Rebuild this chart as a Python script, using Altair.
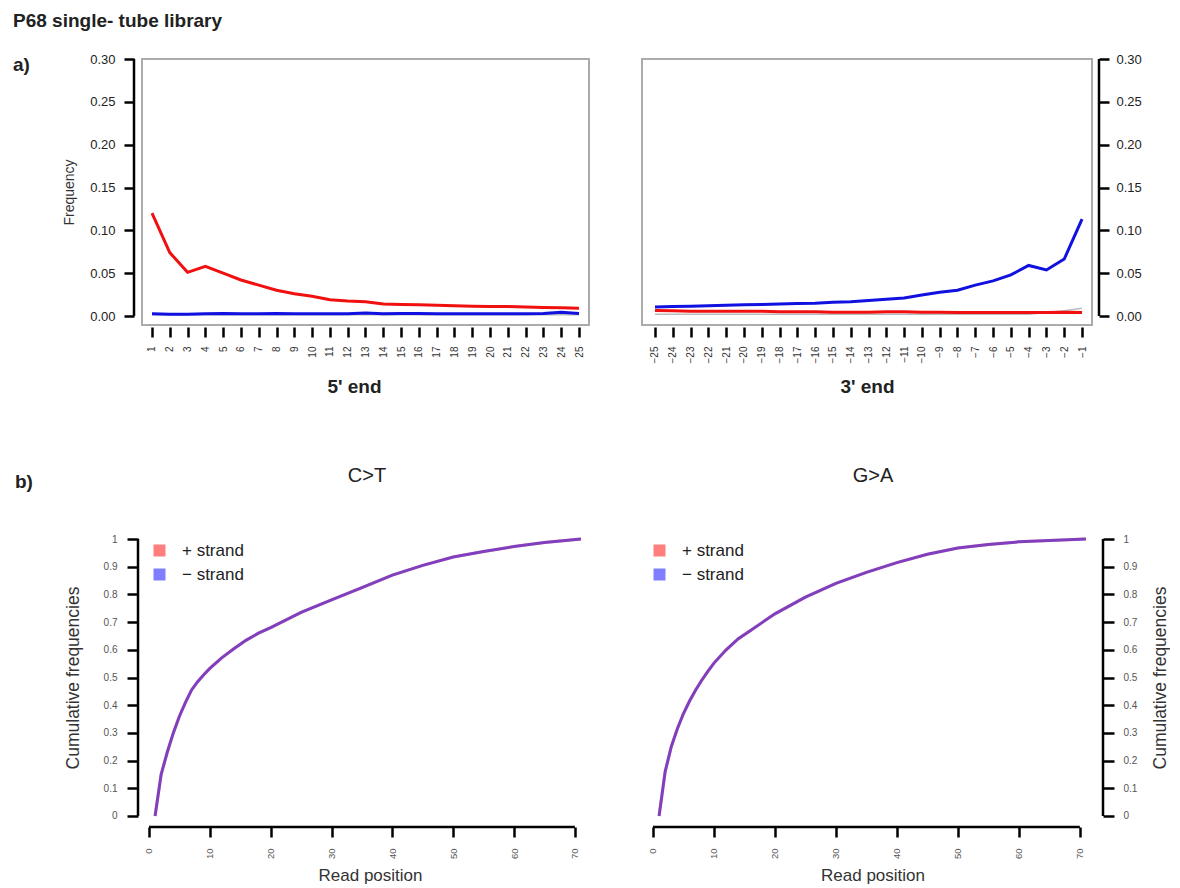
import altair as alt
import pandas as pd

FONT = "Liberation Sans"

# ---------------- data ----------------
pos5 = list(range(1, 26))
ct_5p = [0.120, 0.074, 0.051, 0.058, 0.050, 0.042, 0.036, 0.030, 0.026, 0.023,
         0.019, 0.0175, 0.0165, 0.014, 0.0135, 0.013, 0.0125, 0.012, 0.0115, 0.011,
         0.011, 0.0105, 0.010, 0.0095, 0.009]
ga_5p = [0.0025, 0.002, 0.002, 0.0025, 0.003, 0.0025, 0.0025, 0.003, 0.0025, 0.0025,
         0.0025, 0.0025, 0.0035, 0.0025, 0.003, 0.003, 0.0025, 0.0025, 0.0025, 0.0025,
         0.0025, 0.0025, 0.003, 0.0045, 0.003]
other_5p = [0.0015, 0.0015, 0.0015, 0.0015, 0.0015, 0.0015, 0.0015, 0.0015, 0.0015, 0.0015,
            0.0015, 0.0015, 0.0015, 0.0015, 0.0015, 0.0015, 0.0015, 0.0015, 0.0015, 0.0015,
            0.0015, 0.0015, 0.0015, 0.0015, 0.0015]

pos3 = list(range(-25, 0))
ct_3p = [0.0065, 0.006, 0.0055, 0.0055, 0.0055, 0.0055, 0.0055, 0.005, 0.005, 0.005,
         0.0045, 0.0045, 0.0045, 0.005, 0.005, 0.0045, 0.0045, 0.004, 0.004, 0.004,
         0.004, 0.004, 0.004, 0.0045, 0.004]
ga_3p = [0.0105, 0.011, 0.0115, 0.012, 0.0125, 0.013, 0.0135, 0.014, 0.0145, 0.015,
         0.016, 0.0165, 0.018, 0.0195, 0.021, 0.0245, 0.0277, 0.030, 0.036, 0.041,
         0.048, 0.059, 0.0537, 0.0665, 0.113]
other_3p = [0.002, 0.002, 0.002, 0.002, 0.002, 0.002, 0.002, 0.002, 0.002, 0.002,
            0.002, 0.002, 0.002, 0.002, 0.002, 0.002, 0.002, 0.002, 0.002, 0.002,
            0.002, 0.002, 0.004, 0.006, 0.009]

read_pos = [1, 2, 3, 4, 5, 6, 7, 8, 9, 10, 12, 14, 16, 18, 20, 25, 30, 35, 40, 45,
            50, 55, 60, 65, 71]
ct_cum = [0.0, 0.15, 0.23, 0.30, 0.36, 0.41, 0.455, 0.485, 0.51, 0.533, 0.572, 0.605,
          0.635, 0.66, 0.68, 0.735, 0.78, 0.825, 0.87, 0.905, 0.935, 0.955, 0.973, 0.988, 1.0]
ga_cum = [0.0, 0.16, 0.25, 0.315, 0.37, 0.415, 0.455, 0.49, 0.522, 0.552, 0.60, 0.64,
          0.67, 0.70, 0.73, 0.79, 0.84, 0.88, 0.915, 0.945, 0.968, 0.98, 0.99, 0.995, 1.0]

freq_ticks = [0.0, 0.05, 0.10, 0.15, 0.20, 0.25, 0.30]
cum_ticks = [0.0, 0.1, 0.2, 0.3, 0.4, 0.5, 0.6, 0.7, 0.8, 0.9, 1.0]
read_ticks = [0, 10, 20, 30, 40, 50, 60, 70]
strands = ["+ strand", "\u2212 strand"]

TXT = "#222222"
FRAME = alt.ViewBackground(stroke="#ABABAB", strokeWidth=2)
NOFRAME = alt.ViewBackground(stroke="transparent")


def one(text):
    return pd.DataFrame({"t": [text]})


def label(text, x, y, size, weight="bold", align="left"):
    return alt.Chart(one(text)).mark_text(
        align=align, baseline="alphabetic", fontSize=size, fontWeight=weight,
        color=TXT, font=FONT).encode(text="t:N", x=alt.value(x), y=alt.value(y))


# ---------------- top panels ----------------
def top_panel(pos, ct, ga, other, xdomain, width, side, xtitle, xtitle_x):
    xs = alt.Scale(domain=xdomain, nice=False, zero=False)
    ys = alt.Scale(domain=[-0.0105, 0.30], nice=False, zero=False)
    xaxis = alt.Axis(values=pos, labelAngle=270, labelFontSize=10, labelColor="#333",
                     offset=2, tickSize=10, tickWidth=2.5, tickColor="black",
                     domain=False, labelPadding=9, grid=False, title=xtitle,
                     titleFontSize=19, titleFontWeight="bold", titleColor=TXT,
                     titleX=xtitle_x, titleY=65, titleBaseline="alphabetic")
    if side == "left":
        yaxis = alt.Axis(values=freq_ticks, format=".2f", orient="left", offset=8,
                         domain=False, tickSize=10, tickWidth=2.5, tickColor="black",
                         labelPadding=9, labelFontSize=13, labelColor=TXT, grid=False,
                         title="Frequency", titleFontSize=14, titleFontWeight="normal",
                         titleColor="#333", titlePadding=13)
        rule_x = -8
    else:
        yaxis = alt.Axis(values=freq_ticks, format=".2f", orient="right", offset=7,
                         domain=False, tickSize=10, tickWidth=2.5, tickColor="black",
                         labelPadding=7, labelFontSize=13, labelColor=TXT, grid=False,
                         title=None)
        rule_x = width + 7
    df = pd.DataFrame({"pos": pos, "ct": ct, "ga": ga, "other": other})
    base = alt.Chart(df)
    X = alt.X("pos:Q", scale=xs, axis=xaxis)
    l_other = base.mark_line(color="#BBBBBB", strokeWidth=1.5).encode(
        x=X, y=alt.Y("other:Q", scale=ys, axis=yaxis))
    l_ct = base.mark_line(color="#F01010", strokeWidth=3).encode(
        x=X, y=alt.Y("ct:Q", scale=ys, axis=yaxis))
    l_ga = base.mark_line(color="#1010E0", strokeWidth=3).encode(
        x=X, y=alt.Y("ga:Q", scale=ys, axis=yaxis))
    axis_df = pd.DataFrame({"lo": [freq_ticks[0]], "hi": [freq_ticks[-1]]})
    yline = alt.Chart(axis_df).mark_rule(color="black", strokeWidth=2.5).encode(
        x=alt.value(rule_x), y=alt.Y("lo:Q", scale=ys, axis=yaxis), y2="hi:Q")
    return [l_other, l_ct, l_ga, yline]


tl_layers = top_panel(pos5, ct_5p, ga_5p, other_5p, [0.438, 25.562], 447, "left",
                      "5' end", 212)
tl = alt.layer(*tl_layers,
               label("P68 single- tube library", -129, -32, 19),
               label("a)", -129, 12, 19)).properties(width=447, height=266, view=FRAME)

tr_layers = top_panel(pos3, ct_3p, ga_3p, other_3p, [-25.73, -0.44], 450, "right",
                      "3' end", 225)
tr = alt.layer(*tr_layers).properties(width=450, height=266, view=FRAME)


# ---------------- bottom panels ----------------
def bottom_panel(cum, xdomain, width, side, title, title_x):
    xs = alt.Scale(domain=xdomain, nice=False, zero=False)
    ys = alt.Scale(domain=[-0.04, 1.04], nice=False, zero=False)
    xaxis = alt.Axis(values=read_ticks, labelAngle=270, labelFontSize=9.5, labelColor="#555",
                     tickSize=10, tickWidth=2.5, tickColor="black", domain=False,
                     labelPadding=11, grid=False, title="Read position",
                     titleFontSize=17, titleFontWeight="normal", titleColor="#333",
                     titleY=53, titleBaseline="alphabetic")
    if side == "left":
        yaxis = alt.Axis(values=cum_ticks, format="~g", orient="left", offset=4,
                         domain=False, tickSize=11, tickWidth=2.5, tickColor="black",
                         labelPadding=10, labelFontSize=10, labelColor="#555", grid=False,
                         title="Cumulative frequencies", titleFontSize=17.5,
                         titleFontWeight="normal", titleColor="#333", titlePadding=21)
        rule_x = -4
    else:
        yaxis = alt.Axis(values=cum_ticks, format="~g", orient="right", offset=0,
                         domain=False, tickSize=11, tickWidth=2.5, tickColor="black",
                         labelPadding=9, labelFontSize=10, labelColor="#555", grid=False,
                         title="Cumulative frequencies", titleFontSize=17.5,
                         titleAngle=270, titleFontWeight="normal", titleColor="#333",
                         titlePadding=33)
        rule_x = width
    rows = []
    for s in strands:
        for p, v in zip(read_pos, cum):
            rows.append({"pos": p, "cum": v, "strand": s})
    df = pd.DataFrame(rows)
    X = alt.X("pos:Q", scale=xs, axis=xaxis)
    Y = alt.Y("cum:Q", scale=ys, axis=yaxis)
    color = alt.Color("strand:N",
                      scale=alt.Scale(domain=strands, range=["#FF0000", "#0000FF"]),
                      legend=alt.Legend(title=None, orient="none", legendX=9, legendY=14,
                                        symbolType="square", symbolSize=36,
                                        symbolStrokeWidth=6, labelFontSize=17,
                                        labelFont=FONT, labelColor=TXT, labelOffset=14,
                                        rowPadding=-9))
    lines = alt.Chart(df).mark_line(strokeWidth=3, opacity=0.5).encode(
        x=X, y=Y, color=color, order=alt.Order("pos:Q"))
    ydf = pd.DataFrame({"lo": [cum_ticks[0]], "hi": [cum_ticks[-1]]})
    yline = alt.Chart(ydf).mark_rule(color="black", strokeWidth=2.5).encode(
        x=alt.value(rule_x), y=alt.Y("lo:Q", scale=ys, axis=yaxis), y2="hi:Q")
    xdf = pd.DataFrame({"lo": [read_ticks[0]], "hi": [read_ticks[-1]]})
    xline = alt.Chart(xdf).mark_rule(color="black", strokeWidth=2.5).encode(
        y=alt.value(299), x=alt.X("lo:Q", scale=xs, axis=xaxis), x2="hi:Q")
    head = label(title, title_x, -46, 20, weight="normal", align="center")
    return [lines, yline, xline, head]


bl_layers = bottom_panel(ct_cum, [-1.15, 73.8], 456, "left", "C>T", 225)
bl = alt.layer(*bl_layers, label("b)", -127, -40, 19)).properties(
    width=456, height=299, view=NOFRAME)

br_layers = bottom_panel(ga_cum, [-1.8, 73.8], 461, "right", "G>A", 231)
br = alt.layer(*br_layers).properties(width=461, height=299, view=NOFRAME)

chart = alt.concat(tl, tr, bl, br, columns=2, spacing={"row": 203, "column": 44},
                   bounds="flush").resolve_scale(color="independent").resolve_legend(
    color="independent").properties(
    padding={"left": 4, "top": 3, "right": 0, "bottom": 0}).configure(
    font=FONT).configure_axis(labelFont=FONT, titleFont=FONT)

chart.save("out.html", embed_options={"renderer": "svg", "actions": False})
